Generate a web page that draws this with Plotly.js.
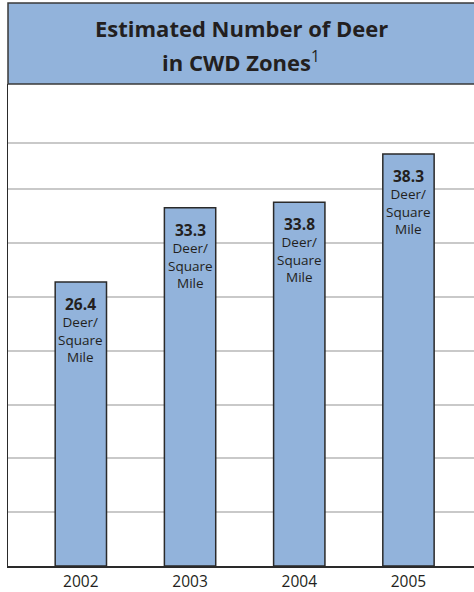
<!DOCTYPE html>
<html>
<head>
<meta charset="utf-8">
<script src="https://cdn.plot.ly/plotly-3.0.1.min.js"></script>
<style>html,body{margin:0;padding:0;background:#fff;}#chart{width:474px;height:592px;}</style>
</head>
<body>
<div id="chart"></div>
<script>
const years = ['2002', '2003', '2004', '2005'];
const deerPerSqMile = [26.4, 33.3, 33.8, 38.3];
const unitLabel = 'Deer/<br>Square<br>Mile';
const gridValues = [5, 10, 15, 20, 25, 30, 35, 39.3];
const titleLines = ['Estimated Number of Deer', 'in CWD Zones'];
const titleFootnote = '1';

const FONT = '"Open Sans", "Noto Sans", sans-serif';
const TXT = '#231f20';
const BLUE = '#92b3db';

const trace = {
  type: 'bar',
  x: years,
  y: deerPerSqMile,
  width: 0.47,
  marker: {color: BLUE, line: {color: '#2a2a2a', width: 1.5}},
  hoverinfo: 'none'
};

const annotations = [];
years.forEach((yr, i) => {
  annotations.push({
    x: i, y: deerPerSqMile[i], xref: 'x', yref: 'y',
    text: '<b>' + deerPerSqMile[i].toFixed(1) + '</b>',
    showarrow: false, yanchor: 'top', yshift: -9,
    font: {family: FONT, size: 15.5, color: TXT}
  });
  annotations.push({
    x: i, y: deerPerSqMile[i], xref: 'x', yref: 'y',
    text: unitLabel,
    showarrow: false, yanchor: 'top', yshift: -29,
    font: {family: FONT, size: 13.5, color: TXT}
  });
});
annotations.push({
  xref: 'paper', yref: 'paper', x: 0.5, y: 1 + (84 - 28) / 482,
  text: '<b>' + titleLines[0] + '</b>', showarrow: false, yanchor: 'middle', xanchor: 'center',
  font: {family: FONT, size: 22, color: TXT}
});
annotations.push({
  xref: 'paper', yref: 'paper', x: 0.5, y: 1 + (84 - 62) / 482,
  text: '<b>' + titleLines[1] + '</b><sup>' + titleFootnote + '</sup>', showarrow: false,
  yanchor: 'middle', xanchor: 'center',
  font: {family: FONT, size: 22, color: TXT}
});

const layout = {
  width: 474, height: 592,
  margin: {l: 8, r: 0, t: 84, b: 26, pad: 0},
  paper_bgcolor: '#ffffff', plot_bgcolor: '#ffffff',
  showlegend: false,
  font: {family: FONT, color: TXT},
  xaxis: {
    type: 'category', range: [-0.667, 3.6],
    showgrid: false, zeroline: false,
    showline: true, linecolor: '#2a2a2a', linewidth: 1.5,
    ticks: '', ticklabelstandoff: 1,
    tickfont: {family: FONT, size: 15.5, color: TXT}
  },
  yaxis: {
    range: [0, 44.8], tickvals: gridValues, showticklabels: false,
    showgrid: true, gridcolor: '#c9c9c9', gridwidth: 2,
    zeroline: false, showline: true, linecolor: '#2a2a2a', linewidth: 1.5, ticks: ''
  },
  shapes: [{
    type: 'rect', xref: 'paper', yref: 'paper',
    x0: 0, x1: 1.01, y0: 1, y1: 1 + 81 / 482,
    fillcolor: BLUE, line: {color: '#3a3a3a', width: 1.5}, layer: 'below'
  }],
  annotations: annotations
};

Plotly.newPlot('chart', [trace], layout, {displayModeBar: false, staticPlot: true});
</script>
</body>
</html>
